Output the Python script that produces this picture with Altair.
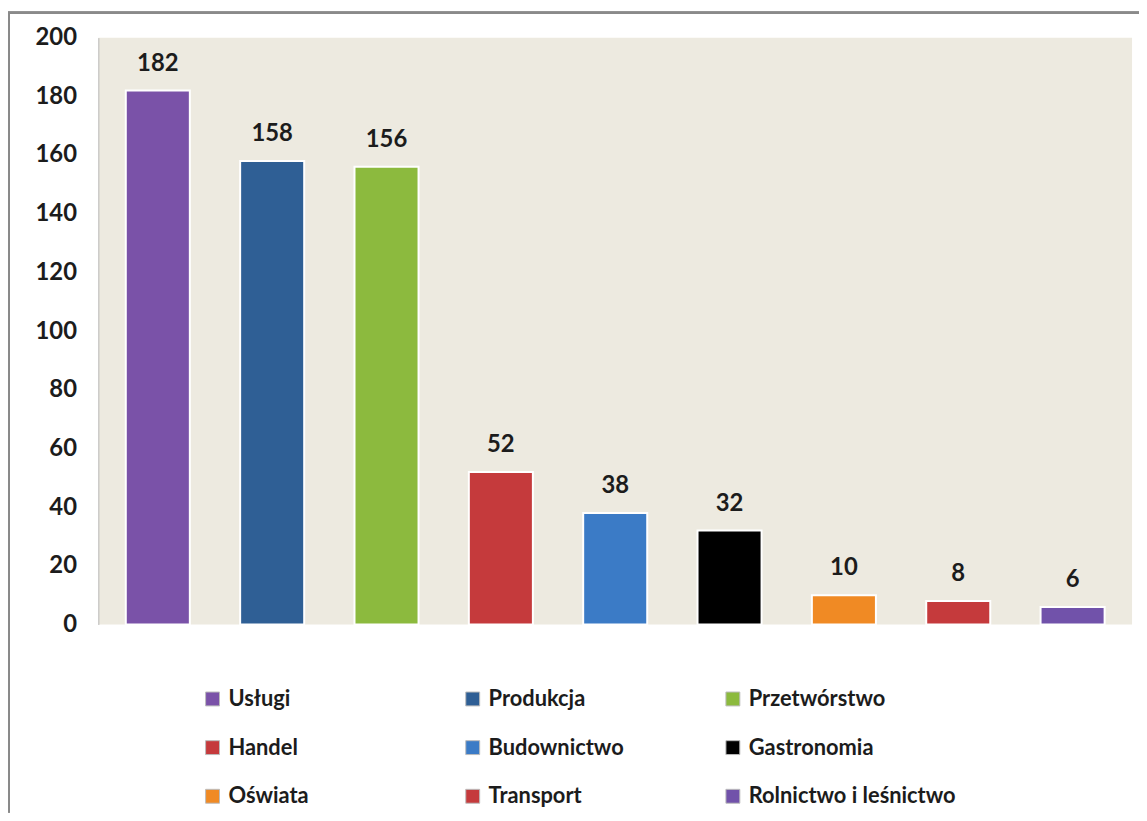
import altair as alt
import pandas as pd

categories = ["Usługi", "Produkcja", "Przetwórstwo", "Handel", "Budownictwo",
              "Gastronomia", "Oświata", "Transport", "Rolnictwo i leśnictwo"]
values = [182, 158, 156, 52, 38, 32, 10, 8, 6]
colors = ["#7a52a8", "#2f5f95", "#8cba3e", "#c53a3c", "#3b7bc6",
          "#000000", "#f08a24", "#c53a3c", "#7152aa"]
y_ticks = [0, 20, 40, 60, 80, 100, 120, 140, 160, 180, 200]

df = pd.DataFrame({"kat": categories, "wartosc": values})

FONT = "Lato"

x_enc = alt.X("kat:N", sort=categories, axis=None,
              scale=alt.Scale(paddingInner=0.44, paddingOuter=0.24))
y_scale = alt.Scale(domain=[0, 200], nice=False)

bars = alt.Chart(df).mark_bar(stroke="#ffffff", strokeWidth=2).encode(
    x=x_enc,
    y=alt.Y("wartosc:Q", scale=y_scale,
            axis=alt.Axis(values=y_ticks, title=None, grid=False, ticks=False,
                          domain=True, domainColor="#b8b8b8", domainWidth=1,
                          labelFont=FONT, labelFontSize=24, labelFontWeight="bold",
                          labelColor="#1c1c1c", labelPadding=22)),
    color=alt.Color("kat:N", sort=categories,
                    scale=alt.Scale(domain=categories, range=colors),
                    legend=alt.Legend(title=None, orient="none", columns=3,
                                      legendX=104, legendY=655,
                                      direction="horizontal",
                                      gridAlign="all", columnPadding=26,
                                      rowPadding=27,
                                      symbolType="square", symbolSize=196,
                                      symbolStrokeWidth=1, symbolStrokeColor="#bbbbbb",
                                      labelFont=FONT, labelFontSize=22,
                                      labelFontWeight="bold", labelColor="#1c1c1c",
                                      labelOffset=5, labelLimit=300)),
)

labels = alt.Chart(df).mark_text(font=FONT, fontSize=24, fontWeight="bold",
                                 color="#1c1c1c", baseline="bottom", dy=-15).encode(
    x=alt.X("kat:N", sort=categories, axis=None),
    y=alt.Y("wartosc:Q", scale=y_scale),
    text=alt.Text("wartosc:Q"),
)

frame_top = alt.Chart(df).mark_rule(color="#8a8a8a", strokeWidth=2).encode(
    x=alt.value(-91), x2=alt.value(1060), y=alt.value(-25))
frame_left = alt.Chart(df).mark_rule(color="#8a8a8a", strokeWidth=2).encode(
    x=alt.value(-90), y=alt.value(-25), y2=alt.value(780))

chart = alt.layer(bars, labels, frame_top, frame_left).properties(
    width=1041, height=591,
    autosize=alt.AutoSizeParams(type="none"),
    padding={"left": 91, "top": 27, "right": 7, "bottom": 190},
    background="#ffffff",
).configure_view(fill="#edeae0", stroke=None)

chart.save("out.html", embed_options={"renderer": "svg", "actions": False})
